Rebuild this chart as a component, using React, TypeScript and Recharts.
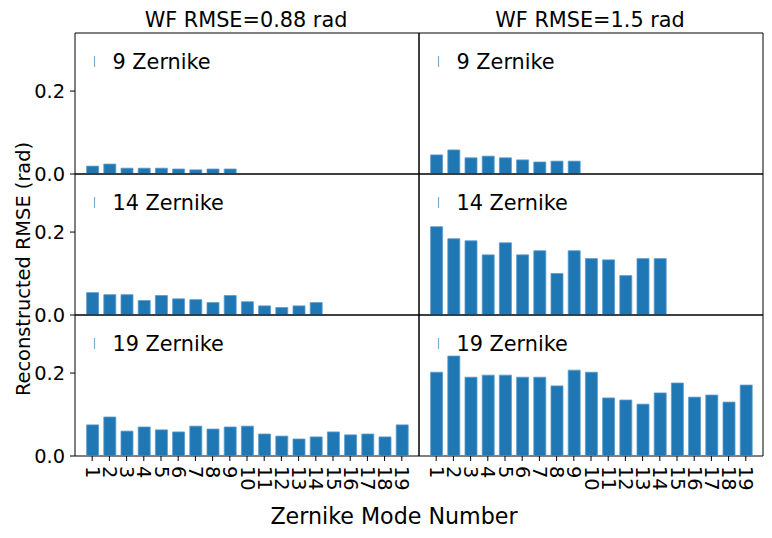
import React from 'react';
import { BarChart, Bar, XAxis, YAxis, ReferenceArea } from 'recharts';

// Zernike mode numbers (x tick labels)
const MODES = [1, 2, 3, 4, 5, 6, 7, 8, 9, 10, 11, 12, 13, 14, 15, 16, 17, 18, 19];

// reconstructed RMSE (rad), WF RMSE = 0.88 rad
const low9 = [0.019, 0.024, 0.014, 0.014, 0.014, 0.012, 0.01, 0.012, 0.012];
const low14 = [0.054, 0.049, 0.049, 0.035, 0.047, 0.039, 0.037, 0.03, 0.047, 0.032, 0.022, 0.018, 0.022, 0.03];
const low19 = [0.075, 0.094, 0.06, 0.07, 0.063, 0.058, 0.072, 0.065, 0.07, 0.072, 0.053, 0.048, 0.041, 0.046, 0.058, 0.051, 0.053, 0.046, 0.075];

// reconstructed RMSE (rad), WF RMSE = 1.5 rad
const high9 = [0.046, 0.058, 0.039, 0.043, 0.039, 0.034, 0.029, 0.031, 0.031];
const high14 = [0.213, 0.184, 0.179, 0.145, 0.174, 0.145, 0.155, 0.1, 0.155, 0.136, 0.133, 0.095, 0.136, 0.136];
const high19 = [0.202, 0.241, 0.19, 0.195, 0.195, 0.19, 0.19, 0.169, 0.207, 0.202, 0.14, 0.135, 0.125, 0.152, 0.176, 0.142, 0.147, 0.13, 0.171];

const COLUMN_TITLES = ['WF RMSE=0.88 rad', 'WF RMSE=1.5 rad'];
const ROW_LEGENDS = ['9 Zernike', '14 Zernike', '19 Zernike'];
const Y_TICKS = [0, 0.2];

const FONT = 'DejaVu Sans';
const BLUE = '#1f77b4';

// layout (px)
const COL_X = [75, 419];
const ROW_Y = [33, 174, 315];
const PLOT_W = 344;
const PLOT_H = 141;
const AXIS_W = 60;
const PAD = 5;
const LOW_PAD = 15; // room so the 0.0 label isn't clipped
const X_AXIS_H = 50;

const RotatedTick = (props: any) => {
  const { x, y, payload } = props;
  return (
    <g transform={`translate(${x}, ${y}) rotate(90)`}>
      <text x={0} y={0} textAnchor="start" dominantBaseline="central" fontSize={19.4} fontFamily={FONT} fill="#000">
        {payload.value}
      </text>
    </g>
  );
};

const YTick = (props: any) => {
  const { x, y, payload } = props;
  return (
    <text x={x} y={y} textAnchor="end" dominantBaseline="central" fontSize={19.4} fontFamily={FONT} fill="#000">
      {Number(payload.value).toFixed(1)}
    </text>
  );
};

type PanelProps = {
  values: number[];
  col: number;
  row: number;
};

const Panel = ({ values, col, row }: PanelProps) => {
  const data = values.map((v, i) => ({ mode: MODES[i], rmse: v }));
  const bottom = row === 2;
  const width = AXIS_W + PLOT_W + PAD;
  const bottomSpace = bottom ? X_AXIS_H : LOW_PAD;
  const height = PAD + PLOT_H + bottomSpace;
  return (
    <div style={{ position: 'absolute', left: COL_X[col] - AXIS_W, top: ROW_Y[row] - PAD }}>
      <BarChart
        width={width}
        height={height}
        data={data}
        margin={{ top: PAD, right: PAD, bottom: bottom ? 0 : LOW_PAD, left: 0 }}
      >
        <XAxis
          dataKey="mode"
          type="number"
          domain={[0, 20]}
          allowDataOverflow
          ticks={MODES}
          interval={0}
          hide={!bottom}
          height={X_AXIS_H}
          axisLine={false}
          stroke="#000"
          tickLine={{ stroke: '#000' }}
          tickSize={5}
          tickMargin={5}
          tick={<RotatedTick />}
        />
        <YAxis
          type="number"
          domain={[0, 0.34]}
          allowDataOverflow
          ticks={Y_TICKS}
          interval={0}
          width={AXIS_W}
          axisLine={false}
          stroke="#000"
          tickLine={{ stroke: '#000' }}
          tickSize={5}
          tickMargin={5}
          tick={col === 0 ? <YTick /> : false}
        />
        <Bar dataKey="rmse" fill={BLUE} stroke="#5b9bcf" strokeWidth={0.8} barSize={12} isAnimationActive={false} />
        <ReferenceArea x1={0} x2={20} y1={0} y2={0.34} fill="none" fillOpacity={0} stroke="#000" strokeWidth={1} />
      </BarChart>
    </div>
  );
};

const PANELS = [
  [low9, high9],
  [low14, high14],
  [low19, high19],
];

export default function App() {
  return (
    <div style={{ position: 'absolute', left: 0, top: 0, width: 772, height: 538, background: '#fff', fontFamily: FONT }}>
      {PANELS.map((rowVals, r) =>
        rowVals.map((vals, c) => <Panel key={`${r}-${c}`} values={vals} col={c} row={r} />)
      )}
      <svg width={772} height={538} style={{ position: 'absolute', left: 0, top: 0, pointerEvents: 'none' }}>
        {COLUMN_TITLES.map((t, c) => (
          <text key={t} x={COL_X[c] + PLOT_W / 2 - 1} y={26.5} textAnchor="middle" fontSize={20.8} fontFamily={FONT} fill="#000">
            {t}
          </text>
        ))}
        {ROW_LEGENDS.map((label, r) =>
          COL_X.map((cx) => (
            <g key={`${label}-${cx}`}>
              <line x1={cx + 19.5} x2={cx + 19.5} y1={ROW_Y[r] + 23} y2={ROW_Y[r] + 34} stroke={BLUE} strokeOpacity={0.6} strokeWidth={1.2} />
              <text x={cx + 37.5} y={ROW_Y[r] + 36} fontSize={20.8} fontFamily={FONT} fill="#000">
                {label}
              </text>
            </g>
          ))
        )}
        <text x={394} y={524} textAnchor="middle" fontSize={22.2} fontFamily={FONT} fill="#000">
          Zernike Mode Number
        </text>
        <text x={29.5} y={269} transform="rotate(-90, 29.5, 269)" textAnchor="middle" fontSize={19.4} fontFamily={FONT} fill="#000">
          Reconstructed RMSE (rad)
        </text>
      </svg>
    </div>
  );
}
